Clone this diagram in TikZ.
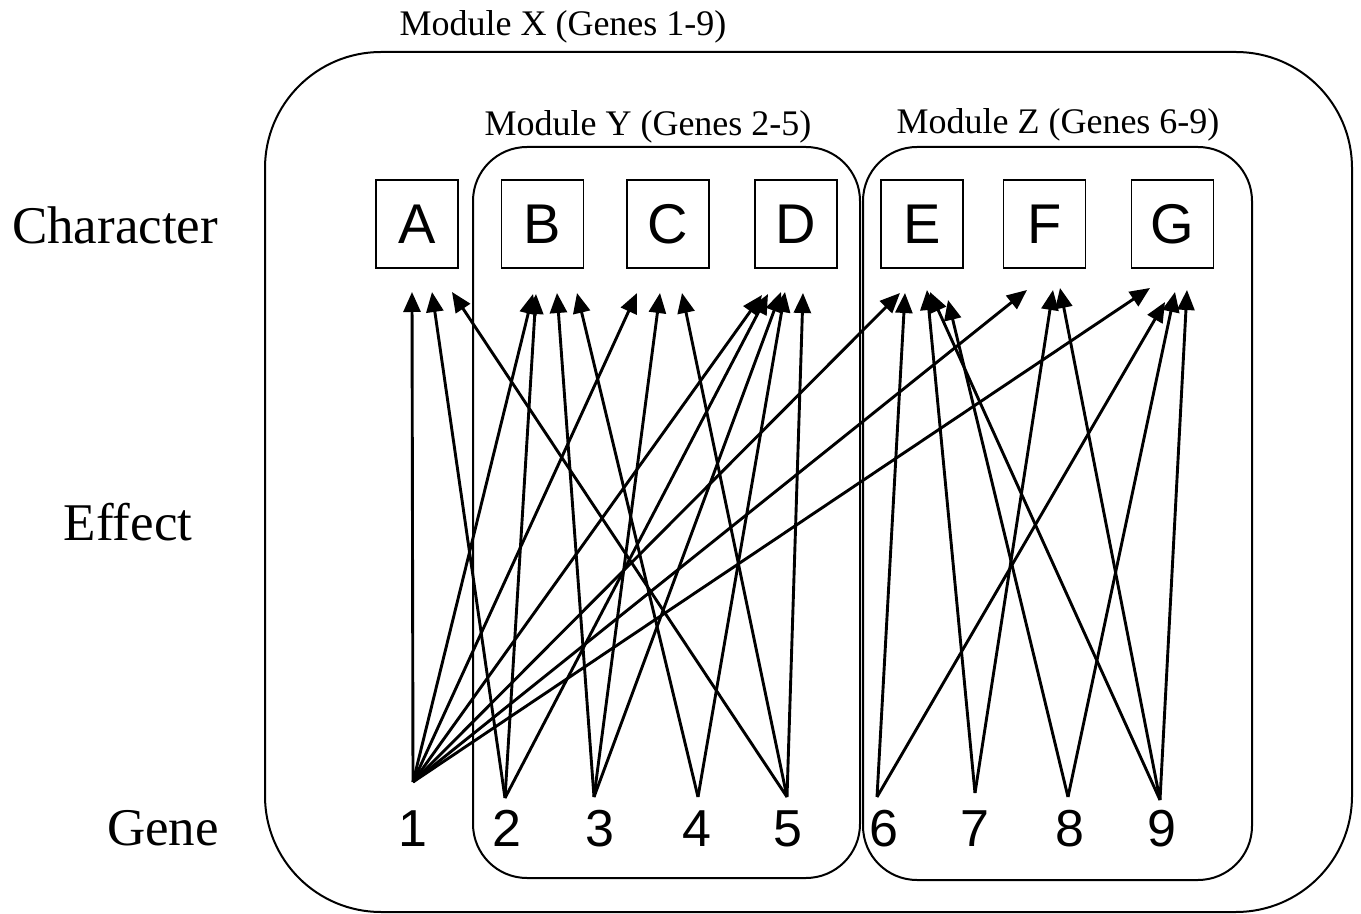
\documentclass[tikz,border=0pt]{standalone}
\usepackage{fontspec}
\setmainfont{Liberation Serif}
\newfontfamily\arialf{Liberation Sans}
\usetikzlibrary{arrows.meta}
\begin{document}
\begin{tikzpicture}[x=0.5pt,y=-0.5pt,
  cbox/.style={draw,line width=0.9pt,minimum width=41pt,minimum height=44pt,inner sep=0pt,font=\arialf\fontsize{28}{28}\selectfont},
  gnum/.style={inner sep=0pt,anchor=base,font=\arialf\fontsize{26}{26}\selectfont},
  rowlab/.style={inner sep=0pt,font=\fontsize{26.5}{26.5}\selectfont},
  modlab/.style={inner sep=0pt,font=\fontsize{18}{18}\selectfont},
  modbox/.style={draw,line width=1pt},
  eff/.style={line width=1.45pt,-{Triangle[length=10pt,width=8.5pt]}}]
\useasboundingbox (0,0) rectangle (1361,914);
% modules
\draw[modbox,rounded corners=58pt] (265,52) rectangle (1352,912);
\draw[modbox,rounded corners=27pt] (473,147) rectangle (860,878);
\draw[modbox,rounded corners=27pt] (863,147) rectangle (1252,880);
\node[modlab] (mx) at (563,27) {Module X (Genes 1-9)};
\node[modlab] (my) at (648,127) {Module Y (Genes 2-5)};
\node[modlab] (mz) at (1058,125) {Module Z (Genes 6-9)};
% row labels
\node[rowlab] (lc) at (115,225) {Character};
\node[rowlab] (le) at (128,522) {Effect};
\node[rowlab] (lg) at (163,828) {Gene};
% characters
\node[cbox] (A) at (417,224) {A};
\node[cbox] (B) at (542.5,224) {B};
\node[cbox] (C) at (668,224) {C};
\node[cbox] (D) at (796,224) {D};
\node[cbox] (E) at (922,224) {E};
\node[cbox] (F) at (1044.5,224) {F};
\node[cbox] (G) at (1172.5,224) {G};
% genes
\node[gnum] (n1) at (413,846) {1};
\node[gnum] (n2) at (507,846) {2};
\node[gnum] (n3) at (600,846) {3};
\node[gnum] (n4) at (697,846) {4};
\node[gnum] (n5) at (788,846) {5};
\node[gnum] (n6) at (884,846) {6};
\node[gnum] (n7) at (975,846) {7};
\node[gnum] (n8) at (1070,846) {8};
\node[gnum] (n9) at (1162,846) {9};
% gene origins
\coordinate (g1) at (413,782);
\coordinate (g2) at (505,798);
\coordinate (g3) at (594,797);
\coordinate (g4) at (698,797);
\coordinate (g5) at (787,797);
\coordinate (g6) at (877,797);
\coordinate (g7) at (975,793);
\coordinate (g8) at (1068,797);
\coordinate (g9) at (1160,800);
% arrow tips
\coordinate (tA1) at (412,292);
\coordinate (tA2) at (432,292);
\coordinate (tA5) at (452,292);
\coordinate (tB1) at (533,294);
\coordinate (tB2) at (536,294);
\coordinate (tB3) at (557,293);
\coordinate (tB4) at (577,293);
\coordinate (tC1) at (637,293);
\coordinate (tC3) at (660,293);
\coordinate (tC5) at (682,293);
\coordinate (tD1) at (762,295);
\coordinate (tD2) at (768,294);
\coordinate (tD3) at (781,292);
\coordinate (tD4) at (785,292);
\coordinate (tD5) at (803,293);
\coordinate (tE1) at (900,293);
\coordinate (tE6) at (905,293);
\coordinate (tE7) at (927,290);
\coordinate (tE9) at (930,292);
\coordinate (tE8) at (948,300);
\coordinate (tF1) at (1027,290);
\coordinate (tF7) at (1053,290);
\coordinate (tF9) at (1060,288);
\coordinate (tG1) at (1150,288);
\coordinate (tG6) at (1165,302);
\coordinate (tG8) at (1175,292);
\coordinate (tG9) at (1187,290);
% effects
\foreach \t in {A1,B1,C1,D1,E1,F1,G1} \draw[eff] (g1) -- (t\t);
\foreach \t in {A2,B2,D2} \draw[eff] (g2) -- (t\t);
\foreach \t in {B3,C3,D3} \draw[eff] (g3) -- (t\t);
\foreach \t in {B4,D4} \draw[eff] (g4) -- (t\t);
\foreach \t in {A5,C5,D5} \draw[eff] (g5) -- (t\t);
\foreach \t in {E6,G6} \draw[eff] (g6) -- (t\t);
\foreach \t in {E7,F7} \draw[eff] (g7) -- (t\t);
\foreach \t in {E8,G8} \draw[eff] (g8) -- (t\t);
\foreach \t in {E9,F9,G9} \draw[eff] (g9) -- (t\t);
\end{tikzpicture}
\end{document}
